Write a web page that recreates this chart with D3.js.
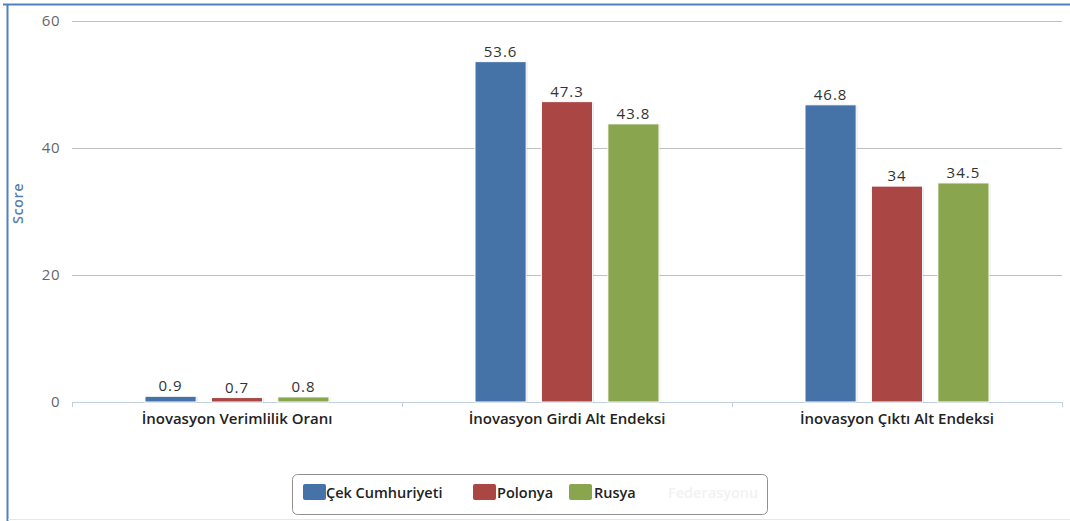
<!DOCTYPE html>
<html>
<head>
<meta charset="utf-8">
<script src="https://cdn.jsdelivr.net/npm/d3@7"></script>
<style>
  html, body { margin: 0; padding: 0; background: #fff; }
  svg { display: block; }
</style>
</head>
<body>
<div id="chart"></div>
<script>
// Innovation index comparison data
const categories = ["İnovasyon Verimlilik Oranı", "İnovasyon Girdi Alt Endeksi", "İnovasyon Çıktı Alt Endeksi"];
const seriesNames = ["Çek Cumhuriyeti", "Polonya", "Rusya"];
const cekValues = [0.9, 53.6, 46.8];
const polonyaValues = [0.7, 47.3, 34];
const rusyaValues = [0.8, 43.8, 34.5];
const yTicks = [0, 20, 40, 60];
const colors = ["#4572A7", "#AA4643", "#89A54E"];

const series = [cekValues, polonyaValues, rusyaValues];

const W = 1070, H = 521;
const plot = { left: 72, right: 1062, top: 21, bottom: 402 };

const svg = d3.select("#chart").append("svg")
  .attr("width", W).attr("height", H);

const FONT = "'Open Sans', 'DejaVu Sans', sans-serif";

// Outer frame (top and left edges)
svg.append("line").attr("x1", 3).attr("x2", W).attr("y1", 4.5).attr("y2", 4.5)
  .attr("stroke", "#4f81bd").attr("stroke-width", 2);
svg.append("line").attr("x1", 7.5).attr("x2", 7.5).attr("y1", 4).attr("y2", H)
  .attr("stroke", "#4f81bd").attr("stroke-width", 2);
svg.append("line").attr("x1", 8).attr("x2", W).attr("y1", 519.5).attr("y2", 519.5)
  .attr("stroke", "#e6e6e6").attr("stroke-width", 1);

const x0 = d3.scaleBand().domain(categories).range([plot.left, plot.right]).paddingInner(0).paddingOuter(0);
const x1 = d3.scaleBand().domain(d3.range(series.length)).range([73, 257]).paddingInner(0.23).paddingOuter(0);
const y = d3.scaleLinear().domain([0, 60]).range([plot.bottom, plot.top]);

// Horizontal gridlines
svg.append("g").selectAll("line").data(yTicks.filter(t => t > 0)).join("line")
  .attr("x1", plot.left).attr("x2", plot.right)
  .attr("y1", d => Math.round(y(d)) + 0.5).attr("y2", d => Math.round(y(d)) + 0.5)
  .attr("stroke", "#c0c0c0").attr("stroke-width", 1);

// Y axis labels
const yAxis = d3.axisLeft(y).tickValues(yTicks).tickSize(0).tickPadding(0);
const gy = svg.append("g").attr("transform", `translate(${plot.left - 12},0)`).call(yAxis);
gy.select(".domain").remove();
gy.selectAll("text").attr("font-family", FONT).attr("font-size", 15).attr("fill", "#666")
  .attr("letter-spacing", 0.5);

// Axis title
svg.append("text")
  .attr("transform", `translate(23,${(plot.top + plot.bottom) / 2 - 8}) rotate(-90)`)
  .attr("text-anchor", "middle")
  .attr("font-family", FONT).attr("font-size", 14.5).attr("font-weight", 600)
  .attr("fill", "#5b7fa6").attr("letter-spacing", 0.5).text("Score");

// X axis line and ticks
const xAxis = d3.axisBottom(x0).tickSize(0).tickPadding(0);
svg.append("line").attr("x1", plot.left).attr("x2", plot.right)
  .attr("y1", plot.bottom + 0.5).attr("y2", plot.bottom + 0.5)
  .attr("stroke", "#c0d0e0").attr("stroke-width", 1);
const bounds = categories.map(c => x0(c)).concat([x0(categories[categories.length - 1]) + x0.bandwidth()]);
svg.append("g").selectAll("line").data(bounds).join("line")
  .attr("x1", d => Math.round(d) + 0.5).attr("x2", d => Math.round(d) + 0.5)
  .attr("y1", plot.bottom).attr("y2", plot.bottom + 5)
  .attr("stroke", "#c0d0e0");

const gx = svg.append("g").attr("transform", `translate(0,${plot.bottom + 9})`).call(xAxis);
gx.select(".domain").remove();
gx.selectAll("text").attr("font-family", FONT).attr("font-size", 15).attr("font-weight", 600)
  .attr("fill", "#222").attr("dy", "0.85em");

// Bars
const groups = svg.append("g").selectAll("g").data(categories).join("g")
  .attr("transform", c => `translate(${x0(c)},0)`);

const bw = x1.bandwidth();
groups.each(function (c, ci) {
  const g = d3.select(this);
  series.forEach((vals, si) => {
    const v = vals[ci];
    const bx = x1(si);
    const top = y(v);
    // soft shadow
    g.append("rect")
      .attr("x", bx + 1.5).attr("y", top + 0.5)
      .attr("width", bw).attr("height", plot.bottom - top)
      .attr("fill", "#000").attr("opacity", 0.08);
    g.append("rect")
      .attr("x", bx).attr("y", top)
      .attr("width", bw).attr("height", plot.bottom - top)
      .attr("fill", colors[si]).attr("stroke", "#fff").attr("stroke-width", 1);
    g.append("text")
      .attr("x", bx + bw / 2).attr("y", top - 5)
      .attr("text-anchor", "middle")
      .attr("font-family", FONT).attr("font-size", 15).attr("letter-spacing", 1)
      .attr("fill", "#333").text(v);
  });
});

// Legend
const legend = svg.append("g");
legend.append("rect").attr("x", 292.5).attr("y", 474.5).attr("width", 475).attr("height", 40)
  .attr("rx", 5).attr("fill", "#fff").attr("stroke", "#909090").attr("stroke-width", 1);
const legendItems = [
  { name: seriesNames[0], sx: 303, tx: 326 },
  { name: seriesNames[1], sx: 473, tx: 497 },
  { name: seriesNames[2], sx: 569, tx: 594 }
];
legendItems.forEach((d, i) => {
  legend.append("rect").attr("x", d.sx).attr("y", 484).attr("width", 23).attr("height", 16)
    .attr("rx", 2).attr("fill", colors[i]);
  legend.append("text").attr("x", d.tx).attr("y", 498)
    .attr("font-family", FONT).attr("font-size", 14.5).attr("font-weight", 600)
    .attr("fill", "#222").text(d.name);
});
legend.append("text").attr("x", 668).attr("y", 498)
  .attr("font-family", FONT).attr("font-size", 14.5).attr("font-weight", 600)
  .attr("fill", "#f2f2f2").text("Federasyonu");
</script>
</body>
</html>
